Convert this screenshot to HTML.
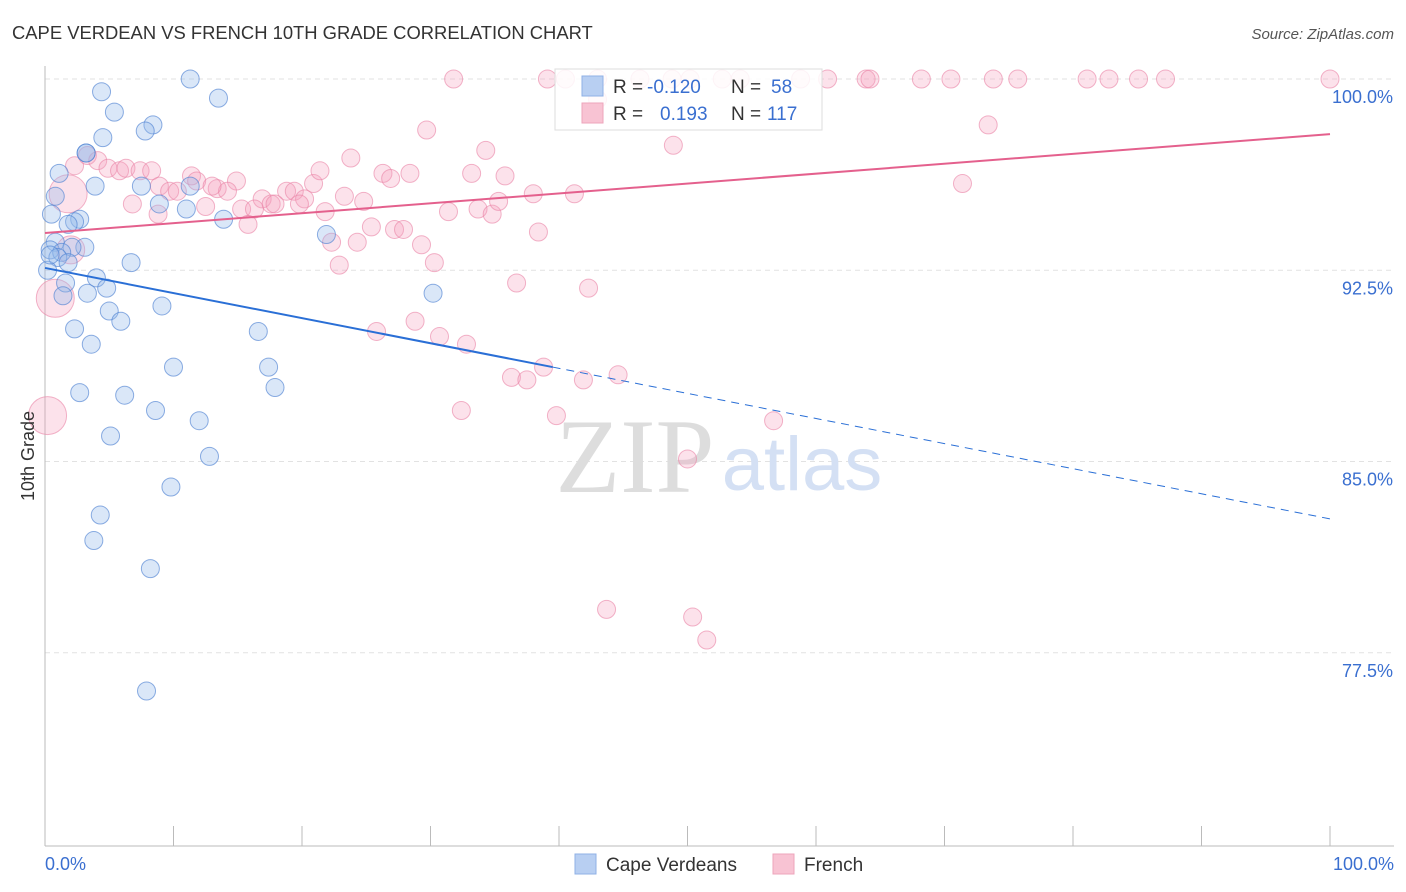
<!DOCTYPE html>
<html><head><meta charset="utf-8"><style>
body{margin:0;background:#fff;font-family:"Liberation Sans",sans-serif;}
svg{display:block}
</style></head><body>
<svg id="chart" width="1406" height="892">
<text x="12" y="39" font-size="18.4" fill="#333">CAPE VERDEAN VS FRENCH 10TH GRADE CORRELATION CHART</text>
<text x="1394" y="39" font-size="15" fill="#555" text-anchor="end" font-style="italic">Source: ZipAtlas.com</text>
<g id="grid"></g>
<text x="635" y="492" font-size="106" fill="#ddd" font-family="Liberation Serif,serif" text-anchor="middle">ZIP</text>
<text x="802" y="490" font-size="76" fill="#d4e0f4" text-anchor="middle">atlas</text>
<g id="pts"></g>
<g id="lines"></g>
<text transform="translate(34,456) rotate(-90)" font-size="18" fill="#333" text-anchor="middle">10th Grade</text>
<g>
<rect x="555" y="69" width="267" height="61" fill="rgba(255,255,255,0.85)" stroke="#ddd"/>
<rect x="582" y="76" width="21" height="20" fill="#b8cff2" stroke="#8fb0e6"/>
<rect x="582" y="103" width="21" height="20" fill="#f8c3d3" stroke="#eea4bb"/>
<text x="613" y="93" font-size="19" fill="#333">R =</text>
<text x="647" y="93" font-size="19" fill="#3a6fd0">-0.120</text>
<text x="731" y="93" font-size="19" fill="#333">N =</text>
<text x="771" y="93" font-size="19" fill="#3a6fd0">58</text>
<text x="613" y="120" font-size="19" fill="#333">R =</text>
<text x="660" y="120" font-size="19" fill="#3a6fd0">0.193</text>
<text x="731" y="120" font-size="19" fill="#333">N =</text>
<text x="767" y="120" font-size="19" fill="#3a6fd0">117</text>
</g>
<g>
<rect x="575" y="854" width="21" height="20" fill="#b8cff2" stroke="#8fb0e6"/>
<text x="606" y="871" font-size="19" fill="#333">Cape Verdeans</text>
<rect x="773" y="854" width="21" height="20" fill="#f8c3d3" stroke="#eea4bb"/>
<text x="804" y="871" font-size="19" fill="#333">French</text>
</g>
</svg>
<script>
const yTicks=[100,92.5,85,77.5];
const yTickLabels=["100.0%","92.5%","85.0%","77.5%"];
const xTickLabels=["0.0%","100.0%"];
const blueX=[11.3,4.4,13.5,5.4,8.4,7.8,4.5,3.2,1.1,3.9,7.5,0.8,11.3,8.9,11.0,0.5,13.9,2.7,2.3,1.8,21.9,0.8,3.1,2.1,0.4,1.3,1.0,1.8,6.7,4.0,1.6,3.3,4.8,1.4,30.2,5.0,9.1,5.9,2.3,16.6,3.6,10.0,17.4,2.7,6.2,17.9,8.6,12.0,5.1,12.8,9.8,4.3,3.8,8.2,7.9,0.2,0.4,3.2];
const blueY=[100,99.5,99.25,98.7,98.2,97.96,97.7,97.1,96.3,95.8,95.8,95.4,95.8,95.1,94.9,94.7,94.5,94.5,94.4,94.3,93.9,93.6,93.4,93.4,93.3,93.2,93.0,92.8,92.8,92.2,92.0,91.6,91.8,91.5,91.6,90.9,91.1,90.5,90.2,90.1,89.6,88.7,88.7,87.7,87.6,87.9,87.0,86.6,86.0,85.2,84.0,82.9,81.9,80.8,76.0,92.5,93.1,97.1];
const pinkX=[31.8,39.1,40.5,43.0,46.3,48.8,50.2,52.7,54.1,58.8,60.9,63.9,64.2,68.2,70.5,73.8,75.7,81.1,82.8,85.1,87.2,100,43.0,73.4,29.7,48.9,34.3,23.8,2.3,3.3,4.1,4.9,5.8,6.3,7.4,8.3,11.4,11.8,14.9,20.9,21.4,26.3,26.9,28.4,33.2,35.8,18.8,19.4,16.9,17.6,20.2,23.3,24.8,38.0,41.2,71.4,8.9,9.7,10.3,13.4,14.2,13.0,6.8,8.8,12.5,15.3,16.3,17.9,19.8,21.8,31.4,33.7,34.8,35.3,15.8,25.4,27.2,27.9,38.4,22.3,24.3,29.3,22.9,30.3,36.7,42.3,28.8,25.8,30.7,32.8,36.3,37.5,38.8,41.9,44.6,32.4,39.8,56.7,50.0,43.7,50.4,51.5,0.2,0.8,1.8,2.0];
const pinkY=[100,100,100,100,100,100,100,100,100,100,100,100,100,100,100,100,100,100,100,100,100,100,99.2,98.2,98.0,97.4,97.2,96.9,96.6,97.0,96.8,96.5,96.4,96.5,96.4,96.4,96.2,96.0,96.0,95.9,96.4,96.3,96.1,96.3,96.3,96.2,95.6,95.6,95.3,95.1,95.3,95.4,95.2,95.5,95.5,95.9,95.8,95.6,95.6,95.7,95.6,95.8,95.1,94.7,95.0,94.9,94.9,95.1,95.1,94.8,94.8,94.9,94.7,95.2,94.3,94.2,94.1,94.1,94.0,93.6,93.6,93.5,92.7,92.8,92.0,91.8,90.5,90.1,89.9,89.6,88.3,88.2,88.7,88.2,88.4,87.0,86.8,86.6,85.1,79.2,78.9,78.0,86.8,91.4,95.5,93.3];
const blueTrend=[92.59,82.75];
const pinkTrend=[93.96,97.84];
const NS="http://www.w3.org/2000/svg";
const sx=v=>45+v*12.85, sy=v=>79+(100-v)*25.5;
function mk(t,a,p){const e=document.createElementNS(NS,t);for(const k in a)e.setAttribute(k,a[k]);p.appendChild(e);return e;}
const grid=document.getElementById('grid');
yTicks.forEach((v,i)=>{
 const l=mk('line',{x1:45,x2:1394,y1:sy(v),y2:sy(v),stroke:'#e2e2e2','stroke-dasharray':'5,4'},grid);
 
 
 const t=mk('text',{x:1393,y:sy(v)+24,'font-size':18,fill:'#3a6fd0','text-anchor':'end'},grid);t.textContent=yTickLabels[i];
 
 
});
const ax=mk('line',{x1:45,x2:45,y1:66,y2:846,stroke:'#bbb'},grid);


const bx=mk('line',{x1:45,x2:1394,y1:846,y2:846,stroke:'#bbb'},grid);


for(let i=0;i<=10;i++){const t=mk('line',{x1:sx(i*10),x2:sx(i*10),y1:826,y2:846,stroke:'#bbb'},grid);
 
 }
[[0,'start',45],[100,'end',1394]].forEach((d,i)=>{const t=mk('text',{x:d[2],y:870,'font-size':18,fill:'#3a6fd0','text-anchor':d[1]},grid);t.textContent=xTickLabels[i];
 
 });
const pts=document.getElementById('pts');
pinkX.forEach((x,i)=>{const big=i>=pinkX.length-4;
 const c=mk('circle',{cx:sx(x),cy:sy(pinkY[i]),r:big?(i==pinkX.length-1?14:19):9,fill:'rgba(244,160,188,0.3)',stroke:'rgba(234,130,165,0.6)','stroke-width':1},pts);
 
 });
blueX.forEach((x,i)=>{const c=mk('circle',{cx:sx(x),cy:sy(blueY[i]),r:9,fill:'rgba(150,185,236,0.35)',stroke:'rgba(80,130,210,0.65)','stroke-width':1},pts);
 
 });
const lg=document.getElementById('lines');
const bAt=x=>blueTrend[0]+(blueTrend[1]-blueTrend[0])*x/100;
const b1=mk('line',{x1:sx(0),y1:sy(bAt(0)),x2:sx(39.5),y2:sy(bAt(39.5)),stroke:'#2a6fd6','stroke-width':2},lg);


const b2=mk('line',{x1:sx(39.5),y1:sy(bAt(39.5)),x2:sx(100),y2:sy(bAt(100)),stroke:'#2a6fd6','stroke-width':1,'stroke-dasharray':'8,6'},lg);


const p1=mk('line',{x1:sx(0),y1:sy(pinkTrend[0]),x2:sx(100),y2:sy(pinkTrend[1]),stroke:'#e4608d','stroke-width':2},lg);


</script>
</body></html>
